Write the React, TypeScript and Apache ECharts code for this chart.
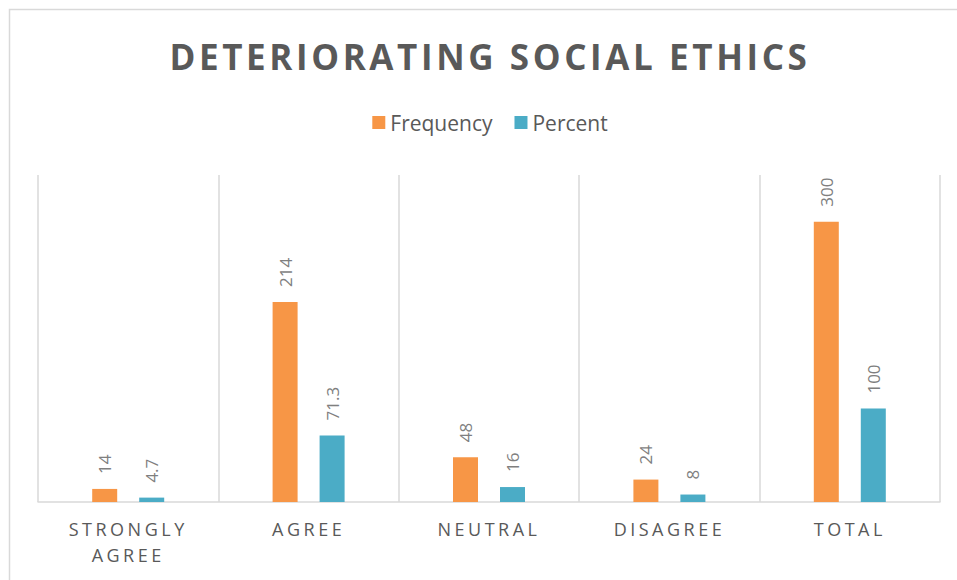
import React, { useEffect, useRef } from "react";
import * as echarts from "echarts";

const titleText = "DETERIORATING SOCIAL ETHICS";
const categories = ["STRONGLY AGREE", "AGREE", "NEUTRAL", "DISAGREE", "TOTAL"];
const seriesNames = ["Frequency", "Percent"];
const frequency = [14, 214, 48, 24, 300];
const percent = [4.7, 71.3, 16, 8, 100];

const FONT = "'Open Sans', 'DejaVu Sans', sans-serif";

export default function App() {
  const ref = useRef<HTMLDivElement>(null);

  useEffect(() => {
    if (!ref.current) return;
    const chart = echarts.init(ref.current, undefined, { renderer: "svg" });
    const label = {
      show: true,
      position: "top" as const,
      rotate: 90,
      align: "left" as const,
      verticalAlign: "middle" as const,
      distance: 15,
      color: "#7f7f7f",
      fontSize: 17,
      fontFamily: FONT,
    };
    chart.setOption({
      animation: false,
      backgroundColor: "#ffffff",
      title: {
        text: titleText,
        left: "center",
        top: 34,
        textStyle: {
          color: "#595959",
          fontSize: 35,
          fontWeight: "bold",
          fontFamily: FONT,
        },
      },
      legend: {
        data: seriesNames,
        left: "center",
        top: 107,
        itemWidth: 13,
        itemHeight: 13,
        itemGap: 22,
        icon: "rect",
        textStyle: { color: "#595959", fontSize: 21, fontFamily: FONT },
      },
      graphic: [
        {
          type: "rect",
          silent: true,
          shape: { x: 9.5, y: 9.5, width: 1000, height: 1000 },
          style: { fill: "none", stroke: "#d9d9d9", lineWidth: 1.5 },
        },
      ],
      grid: { left: 38, right: 40, top: 175, bottom: 78 },
      xAxis: {
        type: "category",
        data: categories,
        axisTick: { show: false },
        axisLine: { show: true, lineStyle: { color: "#d9d9d9", width: 1.5 } },
        splitLine: { show: true, lineStyle: { color: "#d9d9d9", width: 1.5 } },
        axisLabel: {
          color: "#595959",
          fontSize: 18,
          fontFamily: FONT,
          lineHeight: 26,
          margin: 14,
          interval: 0,
          formatter: (v: string) => v.replace(" ", "\n"),
        },
      },
      yAxis: {
        type: "value",
        min: 0,
        max: 350,
        show: false,
        splitLine: { show: false },
      },
      series: [
        {
          name: seriesNames[0],
          type: "bar",
          data: frequency,
          barWidth: 25,
          barGap: "88%",
          itemStyle: { color: "#F79646" },
          label,
        },
        {
          name: seriesNames[1],
          type: "bar",
          data: percent,
          barWidth: 25,
          barGap: "88%",
          itemStyle: { color: "#4BACC6" },
          label,
        },
      ],
    });
    return () => chart.dispose();
  }, []);

  return (
    <>
      <style>{`
        #chartbox text[style*="35px"] { letter-spacing: 3.6px; }
        #chartbox text[style*="18px"] { letter-spacing: 3.5px; }
      `}</style>
      <div
        style={{
          position: "fixed",
          left: 0,
          top: 0,
          width: 957,
          height: 580,
          overflow: "hidden",
          background: "#fff",
        }}
      >
        <div id="chartbox" ref={ref} style={{ width: 980, height: 580 }} />
      </div>
    </>
  );
}
